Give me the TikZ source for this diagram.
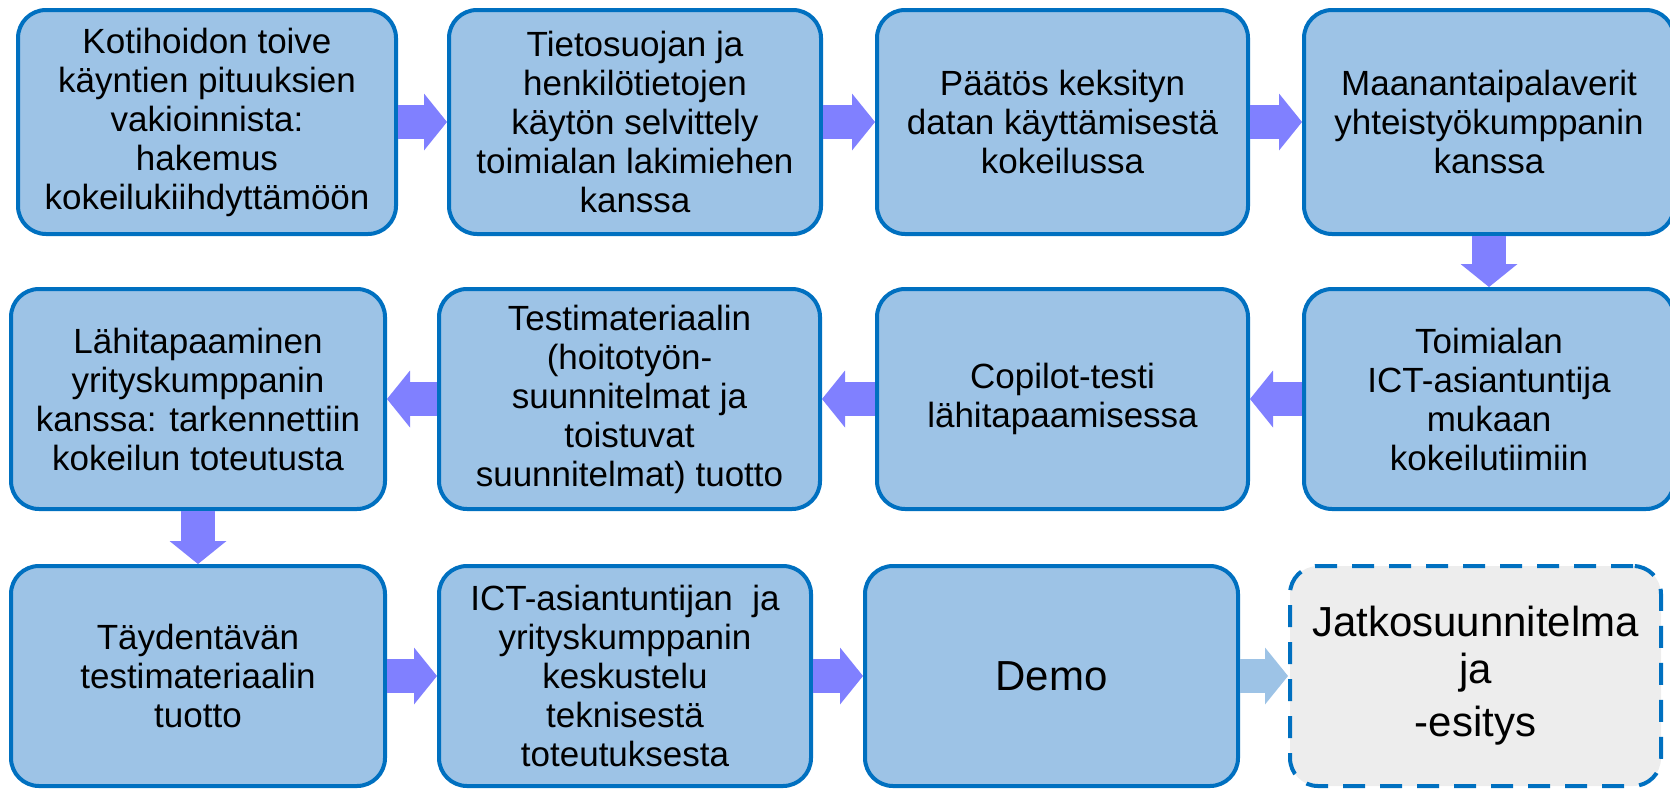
\documentclass[tikz,border=0pt]{standalone}
\usepackage{fontspec}
\setmainfont{Liberation Sans}
\usetikzlibrary{arrows.meta}
\definecolor{boxfill}{HTML}{9DC3E6}
\definecolor{boxline}{HTML}{0070C0}
\definecolor{arrowc}{HTML}{8080FF}
\definecolor{greyfill}{HTML}{EDEDED}
\tikzset{
 stepbox/.style={draw=boxline, fill=boxfill, line width=4pt, rounded corners=28pt, align=center, inner sep=0pt, font=\fontsize{35}{39}\selectfont, text=black},
 endbox/.style={stepbox, fill=greyfill, dash pattern=on 22pt off 15pt, font=\fontsize{42}{47}\selectfont},
 bigtext/.style={font=\fontsize{42}{47}\selectfont},
 flow/.style={draw=arrowc, line width=34pt, -{Triangle[width=57pt,length=23pt,line width=0pt]}},
 flowlight/.style={flow, draw=boxfill}
}
\begin{document}
\begin{tikzpicture}[x=1pt,y=-1pt]
\useasboundingbox (0,0) rectangle (1670,790);
% row 1
\node[stepbox, minimum width=378pt, minimum height=224pt] (b1) at (207,122) {Kotihoidon toive\\käyntien pituuksien\\vakioinnista:\\hakemus\\kokeilukiihdyttämöön};
\node[stepbox, minimum width=372pt, minimum height=224pt] (b2) at (635,122) {Tietosuojan ja\\henkilötietojen\\käytön selvittely\\toimialan lakimiehen\\kanssa};
\node[stepbox, minimum width=371pt, minimum height=224pt] (b3) at (1062.5,122) {Päätös keksityn\\datan käyttämisestä\\kokeilussa};
\node[stepbox, minimum width=370pt, minimum height=224pt] (b4) at (1489,122) {Maanantaipalaverit\\yhteistyökumppanin\\kanssa};
% row 2
\node[stepbox, minimum width=374pt, minimum height=220pt] (c1) at (198,399) {Lähitapaaminen\\yrityskumppanin\\kanssa: tarkennettiin\\kokeilun toteutusta};
\node[stepbox, minimum width=381pt, minimum height=220pt] (c2) at (629.5,399) {Testimateriaalin\\(hoitotyön-\\suunnitelmat ja\\toistuvat\\suunnitelmat) tuotto};
\node[stepbox, minimum width=371pt, minimum height=220pt] (c3) at (1062.5,399) {Copilot-testi\\lähitapaamisessa};
\node[stepbox, minimum width=370pt, minimum height=220pt] (c4) at (1489,399) {Toimialan\\ICT-asiantuntija\\mukaan\\kokeilutiimiin};
% row 3
\node[stepbox, minimum width=374pt, minimum height=220pt] (d1) at (198,676) {Täydentävän\\testimateriaalin\\tuotto};
\node[stepbox, minimum width=372pt, minimum height=220pt] (d2) at (625,676) {ICT-asiantuntijan\ \ ja\\yrityskumppanin\\keskustelu\\teknisestä\\toteutuksesta};
\node[stepbox, bigtext, minimum width=373pt, minimum height=220pt] (d3) at (1051.5,676) {Demo};
\node[endbox, minimum width=371pt, minimum height=220pt] (d4) at (1475.5,676) {Jatkosuunnitelma\\ja\\[6pt]-esitys};
% connectors
\draw[flow] (b1.east) -- (b2.west);
\draw[flow] (b2.east) -- (b3.west);
\draw[flow] (b3.east) -- (b4.west);
\draw[flow] (b4.south) -- (c4.north);
\draw[flow] (c4.west) -- (c3.east);
\draw[flow] (c3.west) -- (c2.east);
\draw[flow] (c2.west) -- (c1.east);
\draw[flow] (c1.south) -- (d1.north);
\draw[flow] (d1.east) -- (d2.west);
\draw[flow] (d2.east) -- (d3.west);
\draw[flowlight] (d3.east) -- (d4.west);
\end{tikzpicture}
\end{document}
